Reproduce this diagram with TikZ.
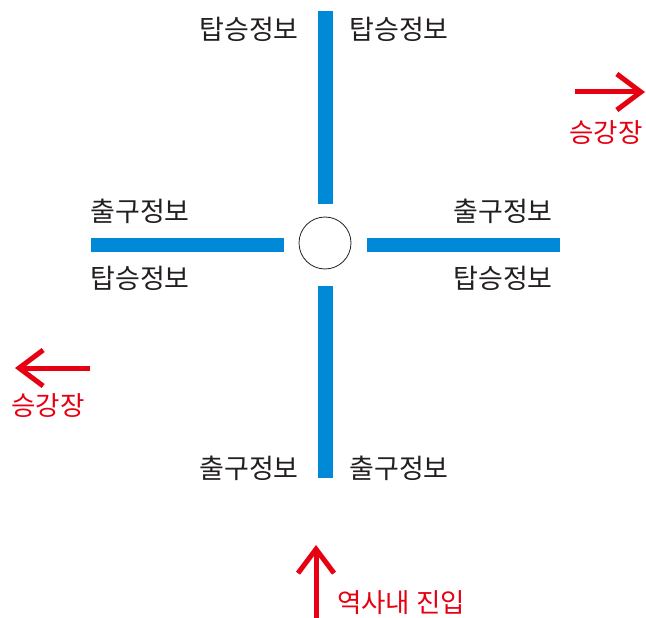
\documentclass[tikz,border=0pt]{standalone}
\usepackage{fontspec}
\newfontfamily\kr{Noto Sans CJK KR}
\usetikzlibrary{arrows.meta}
\definecolor{barblue}{RGB}{0,137,214}
\definecolor{arrred}{RGB}{230,0,18}
\definecolor{txt}{RGB}{35,31,32}
\begin{document}
\begin{tikzpicture}[x=1pt,y=-1pt,
  bar/.style={fill=barblue,draw=none},
  lbl/.style={font=\kr\fontsize{27}{29}\selectfont,text=txt,inner sep=0pt,anchor=center},
  rlbl/.style={font=\kr\fontsize{26.5}{28}\selectfont,text=arrred,inner sep=0pt},
  redarrow/.style={draw=arrred,line width=5pt,-{Straight Barb[length=24pt,width=36pt,line width=5pt]}}]
\useasboundingbox (0,0) rectangle (646,618);
% bars
\path[bar] (318,11) rectangle (333,204);
\path[bar] (318,286) rectangle (333,478);
\path[bar] (91,238) rectangle (284,252);
\path[bar] (367,238) rectangle (560,252);
\node[draw=txt,line width=0.8pt,circle,minimum size=52pt,inner sep=0pt] (c) at (325,243) {};
% labels
\node[lbl] (t1) at (249,29) {탑승정보};
\node[lbl] (t2) at (399,29) {탑승정보};
\node[lbl] (l1) at (140,211) {출구정보};
\node[lbl] (l2) at (140,278) {탑승정보};
\node[lbl] (r1) at (503,211) {출구정보};
\node[lbl] (r2) at (503,278) {탑승정보};
\node[lbl] (b1) at (249,468) {출구정보};
\node[lbl] (b2) at (399,468) {출구정보};
% red arrows
\coordinate (ra0) at (575,92);
\coordinate (ra1) at (645,92);
\draw[redarrow] (ra0) -- (ra1);
\node[rlbl] (rt) at (606,133) {승강장};
\coordinate (la0) at (90,368);
\coordinate (la1) at (15,368);
\draw[redarrow] (la0) -- (la1);
\node[rlbl] (lt) at (48,406) {승강장};
\coordinate (ua0) at (316,618);
\coordinate (ua1) at (316,545);
\draw[redarrow] (ua0) -- (ua1);
\node[rlbl,anchor=west] (ut) at (337,603) {역사내 진입};
\end{tikzpicture}
\end{document}
